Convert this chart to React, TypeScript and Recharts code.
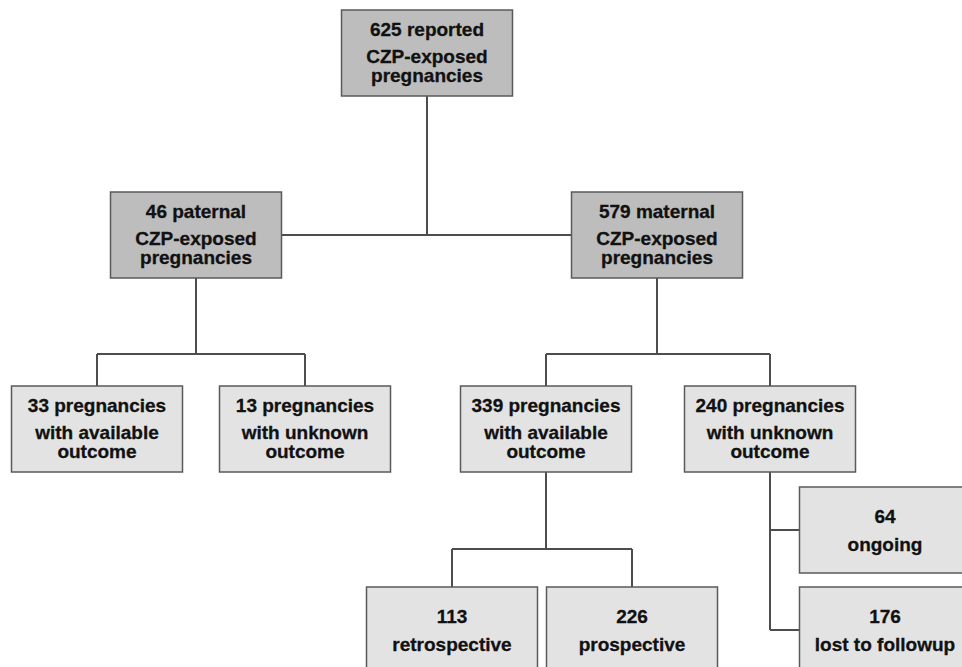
import React from 'react';
import { ScatterChart, Scatter, XAxis, YAxis, ReferenceLine } from 'recharts';

// flowchart drawn on a 1:1 number scale (layout units = pixels)
const W = 962;
const H = 667;
const BOX_W = 171;
const BOX_H = 86;

const nodeNames = [
    'total', 'paternal', 'maternal',
    'patAvailable', 'patUnknown', 'matAvailable', 'matUnknown',
    'retrospective', 'prospective', 'ongoing', 'lost',
];
const nodeLabels = [
    ['625 reported', 'CZP-exposed', 'pregnancies'],
    ['46 paternal', 'CZP-exposed', 'pregnancies'],
    ['579 maternal', 'CZP-exposed', 'pregnancies'],
    ['33 pregnancies', 'with available', 'outcome'],
    ['13 pregnancies', 'with unknown', 'outcome'],
    ['339 pregnancies', 'with available', 'outcome'],
    ['240 pregnancies', 'with unknown', 'outcome'],
    ['113', 'retrospective'],
    ['226', 'prospective'],
    ['64', 'ongoing'],
    ['176', 'lost to followup'],
];
// box centres in layout units
const nodeX = [427, 196, 657, 97, 305, 546, 770, 452, 632, 885, 885];
const nodeY = [53, 235, 235, 429, 429, 429, 429, 630, 630, 530, 630];
const nodeParent = [-1, 0, 0, 1, 1, 2, 2, 5, 5, 6, 6];
// how each parent joins its children: 'side' = trunk to the child's flank, number = bus line y
const branchJoin: Record<number, 'side' | number> = { 0: 'side', 1: 354, 2: 354, 5: 549, 6: 'side' };

const depthOf = (i: number): number => (nodeParent[i] < 0 ? 0 : depthOf(nodeParent[i]) + 1);

const nodes = nodeNames.map((name, i) => ({
    name,
    x: nodeX[i],
    y: nodeY[i],
    lines: nodeLabels[i],
    depth: depthOf(i),
}));

type Seg = [{ x: number; y: number }, { x: number; y: number }];

const buildSegments = (): Seg[] => {
    const segs: Seg[] = [];
    Object.keys(branchJoin).forEach((key) => {
        const p = Number(key);
        const kids = nodeParent.map((par, i) => (par === p ? i : -1)).filter((i) => i >= 0);
        const px = nodeX[p];
        const bottom = nodeY[p] + BOX_H / 2;
        const join = branchJoin[p];
        if (join === 'side') {
            const lowest = Math.max(...kids.map((k) => nodeY[k]));
            segs.push([{ x: px, y: bottom }, { x: px, y: lowest }]);
            kids.forEach((k) => {
                const edge = nodeX[k] < px ? nodeX[k] + BOX_W / 2 : nodeX[k] - BOX_W / 2;
                segs.push([{ x: px, y: nodeY[k] }, { x: edge, y: nodeY[k] }]);
            });
        } else {
            const xs = kids.map((k) => nodeX[k]);
            segs.push([{ x: px, y: bottom }, { x: px, y: join }]);
            segs.push([{ x: Math.min(...xs), y: join }, { x: Math.max(...xs), y: join }]);
            kids.forEach((k) => {
                segs.push([{ x: nodeX[k], y: join }, { x: nodeX[k], y: nodeY[k] - BOX_H / 2 }]);
            });
        }
    });
    return segs;
};

const segments = buildSegments();

const NodeBox = (props: any) => {
    const { cx, cy, payload } = props;
    const lines: string[] = payload.lines;
    const offsets = lines.length === 3 ? [-17, 10, 29] : [-7, 21];
    return (
        <g>
            <rect
                x={cx - BOX_W / 2}
                y={cy - BOX_H / 2}
                width={BOX_W}
                height={BOX_H}
                fill={payload.depth < 2 ? '#bdbdbd' : '#e3e3e3'}
                stroke="#5a5a5a"
                strokeWidth={1.5}
            />
            {lines.map((t, i) => (
                <text
                    key={i}
                    x={cx}
                    y={cy + offsets[i]}
                    textAnchor="middle"
                    fontFamily="'Liberation Sans', Arial, Helvetica, sans-serif"
                    fontWeight="bold"
                    fontSize={19}
                    fill="#111"
                    stroke="#111"
                    strokeWidth={0.3}
                >
                    {t}
                </text>
            ))}
        </g>
    );
};

export default function App() {
    return (
        <div style={{ position: 'absolute', left: 0, top: 0, width: W, height: H, background: '#fff' }}>
            <ScatterChart width={W} height={H} margin={{ top: 0, right: 0, bottom: 0, left: 0 }}>
                <XAxis type="number" dataKey="x" domain={[0, W]} hide />
                <YAxis type="number" dataKey="y" domain={[0, H]} reversed hide />
                {segments.map((s, i) => (
                    <ReferenceLine key={`seg-${i}`} segment={s} stroke="#4d4d4d" strokeWidth={2} ifOverflow="visible" />
                ))}
                <Scatter data={nodes} shape={NodeBox} isAnimationActive={false} />
            </ScatterChart>
        </div>
    );
}
